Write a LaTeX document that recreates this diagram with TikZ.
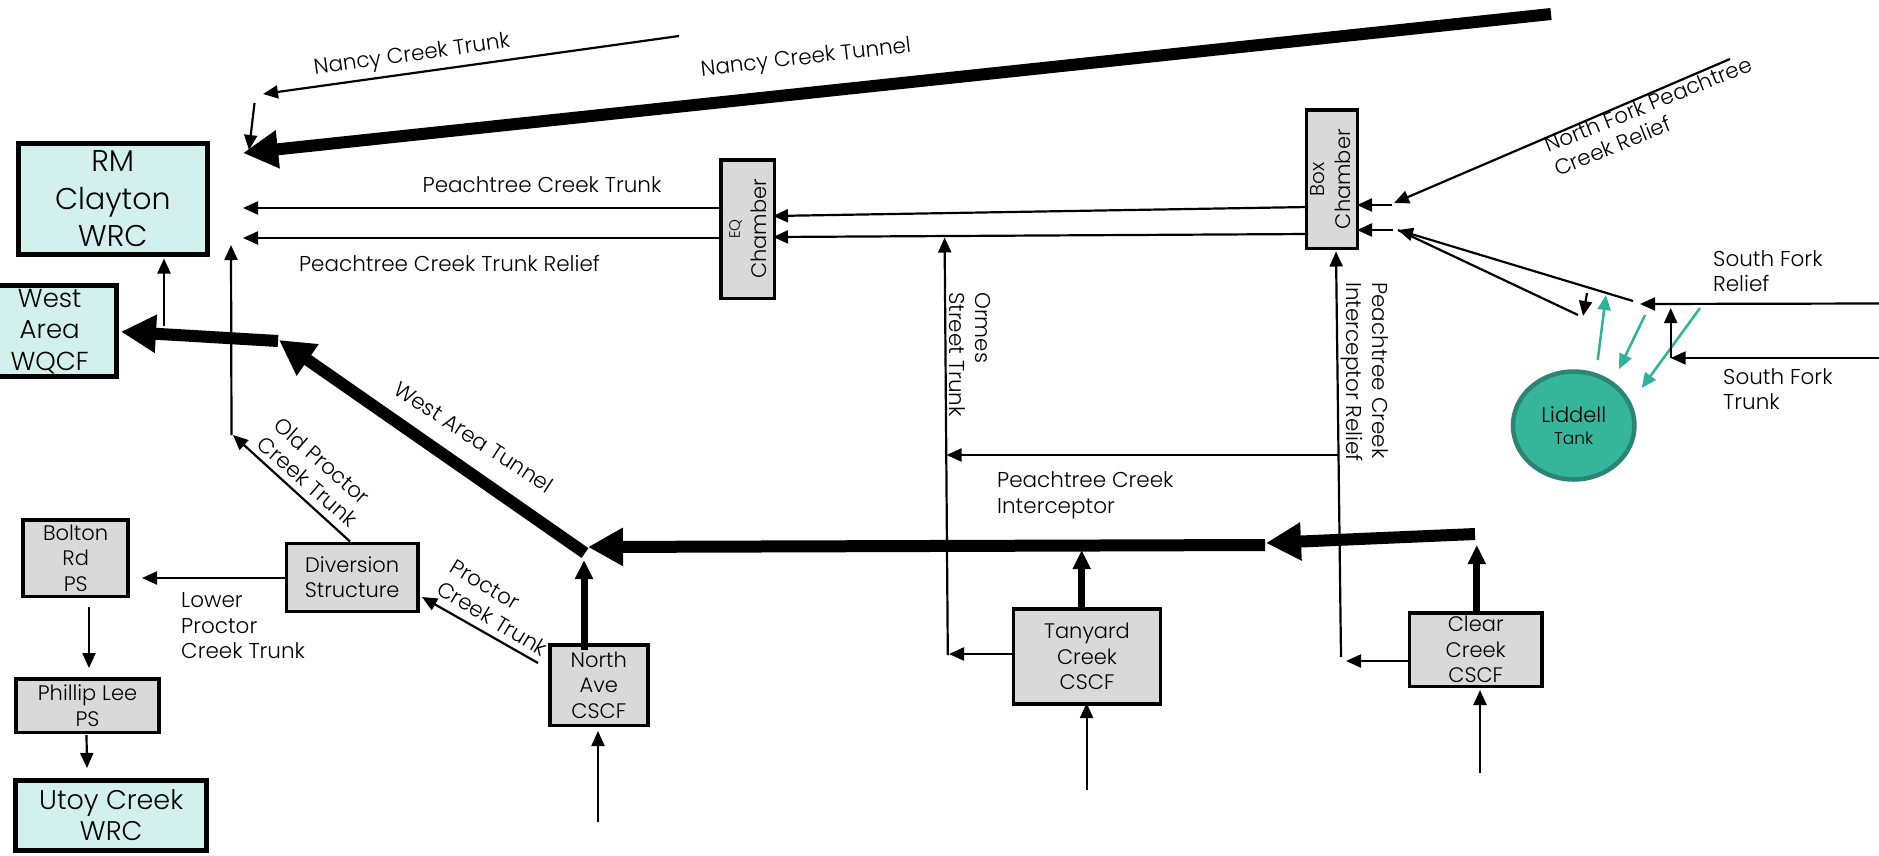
\documentclass[tikz,border=0pt]{standalone}
\usepackage{fontspec}
\setmainfont{Poppins}[UprightFont={* Light}]
\usetikzlibrary{arrows.meta,shapes.geometric}
\definecolor{wrccyan}{HTML}{D3F1EC}
\definecolor{boxgray}{HTML}{D9D9D9}
\definecolor{tankfill}{HTML}{35B59A}
\definecolor{tankline}{HTML}{2A8574}
\definecolor{tealarrow}{HTML}{2EB39B}
\newcommand{\setfs}[2]{\fontsize{#1}{#2}\selectfont}
\begin{document}
\begin{tikzpicture}[x=1pt,y=-1pt,
  lbl/.style={inner sep=0pt, font=\setfs{21.5}{25.5}},
  gbox/.style={draw, line width=3.5pt, fill=boxgray, align=center, inner sep=0pt, font=\setfs{21}{25.5}},
  cbox/.style={draw, line width=5pt, fill=wrccyan, align=center, inner sep=0pt},
  thinflow/.style={line width=2.2pt, -{Triangle[length=15pt,width=13pt]}},
  plainflow/.style={line width=2.2pt},
  midflow/.style={line width=7pt, -{Triangle[length=19pt,width=17pt]}},
  thickflow/.style={line width=12pt, -{Triangle[length=35pt,width=36pt]}},
  tealflow/.style={draw=tealarrow, line width=2.5pt, -{Triangle[length=15pt,width=13pt]}}
]
\useasboundingbox (0,0) rectangle (1879,855);

% ---------- nodes ----------
\node[cbox, minimum width=189.4pt, minimum height=110.7pt, font=\setfs{30}{37.5}] (rmc) at (112.8,198.9) {RM\\Clayton\\WRC};
\node[cbox, minimum width=134.4pt, minimum height=91pt, font=\setfs{26}{31.5}] (wa) at (49.7,331.3) {West\\Area\\WQCF};
\node[cbox, minimum width=190.6pt, minimum height=70pt, font=\setfs{27}{31}] (utoy) at (111.2,815.5) {Utoy Creek\\WRC};
\node[gbox, minimum width=105pt, minimum height=76.5pt] (bolton) at (75.7,558) {Bolton\\Rd\\PS};
\node[gbox, minimum width=143pt, minimum height=53.5pt] (phillip) at (87.5,705.5) {Phillip Lee\\PS};
\node[gbox, minimum width=131.3pt, minimum height=67.8pt] (div) at (352.2,577.4) {Diversion\\Structure};
\node[gbox, minimum width=98pt, minimum height=80.5pt] (north) at (598.8,685) {North\\Ave\\CSCF};
\node[gbox, minimum width=147.4pt, minimum height=95.2pt] (tanyard) at (1087,656.4) {Tanyard\\Creek\\CSCF};
\node[gbox, minimum width=132.6pt, minimum height=73.5pt] (clear) at (1475.7,649.5) {Clear\\Creek\\CSCF};
\node[gbox, rotate=90, minimum width=138.5pt, minimum height=45.6pt, font=\setfs{21}{26.8}] (eq) at (747.8,229)
  {\begin{tabular}{@{}c@{}}{\setfs{15}{18}EQ}\\Chamber\end{tabular}};
\node[gbox, rotate=90, minimum width=138.5pt, minimum height=44.8pt, font=\setfs{21}{25.5}] (box) at (1332.2,179.2)
  {\begin{tabular}{@{}c@{}}{\setfs{20}{24}Box}\\Chamber\end{tabular}};
\node[ellipse, draw=tankline, fill=tankfill, line width=4.5pt, minimum width=121.5pt, minimum height=108pt, inner sep=0pt, align=center, font=\setfs{21}{21.5}] (liddell) at (1573.7,425.5) {Liddell\\{\setfs{17}{20}Tank}};

% ---------- labels ----------
\node[lbl, rotate=8] (lNCT) at (412,56) {Nancy Creek Trunk};
\node[lbl, rotate=6.5] (lNCTu) at (806,59) {Nancy Creek Tunnel};
\node[lbl] (lPCT) at (542,185) {Peachtree Creek Trunk};
\node[lbl] (lPCTR) at (449.5,263.3) {Peachtree Creek Trunk Relief};
\node[lbl, rotate=22, align=left] (lNF) at (1653,116) {North Fork Peachtree\\Creek Relief};
\node[lbl, align=left, anchor=north west] (lSFR) at (1713,250) {South Fork\\Relief};
\node[lbl, align=left, anchor=north west] (lSFT) at (1723,368) {South Fork\\Trunk};
\node[lbl, align=left, anchor=north west] (lPCI) at (997,471.5) {Peachtree Creek\\Interceptor};
\node[lbl, align=left, anchor=north west] (lLPC) at (181,592.5) {Lower\\Proctor\\Creek Trunk};
\node[lbl, align=left, rotate=-90, anchor=north west] (lORM) at (990.5,292) {Ormes\\Street Trunk};
\node[lbl, align=left, rotate=-90, anchor=north west] (lPCIR) at (1388.5,282) {Peachtree Creek\\Interceptor Relief};
\node[lbl, rotate=-33] (lWAT) at (474,437) {West Area Tunnel};
\node[lbl, rotate=-41, align=left] (lOPC) at (316,472) {Old Proctor\\Creek Trunk};
\node[lbl, rotate=-31, align=left] (lPC) at (499,608) {Proctor\\Creek Trunk};

% ---------- coordinates ----------
\coordinate (nctS) at (679,36);      \coordinate (nctE) at (263,94);
\coordinate (dropS) at (254.5,103);  \coordinate (dropE) at (249,150);
\coordinate (nctuS) at (1551,14);    \coordinate (nctuE) at (243,153);
\coordinate (eqL1) at (723,208);     \coordinate (pctE) at (243,208);
\coordinate (eqL2) at (723,238);     \coordinate (pctrE) at (243,238);
\coordinate (bxL1) at (1308,207);    \coordinate (eqR1) at (773,216);
\coordinate (bxL2) at (1308,234);    \coordinate (eqR2) at (773,237);
\coordinate (ormS) at (947.8,655);   \coordinate (ormE) at (944.6,237.5);
\coordinate (tanL) at (1011.6,654);  \coordinate (ormB) at (949,654);
\coordinate (pciS) at (1338.5,455);  \coordinate (pciE) at (946.5,455);
\coordinate (pcirS) at (1341,657);   \coordinate (pcirE) at (1336,251.5);
\coordinate (clrL) at (1407.6,661);  \coordinate (pcirB) at (1346,661);
\coordinate (clrT) at (1476.8,613);  \coordinate (clrUp) at (1476.8,545);
\coordinate (tanT) at (1081.7,610);  \coordinate (tanUp) at (1081.7,550);
\coordinate (nthT) at (584,650);     \coordinate (nthUp) at (584,560);
\coordinate (nthIn) at (598,822);    \coordinate (nthB) at (598,731);
\coordinate (tanIn) at (1086.6,790); \coordinate (tanB) at (1086.6,703);
\coordinate (clrIn) at (1480,773);   \coordinate (clrB) at (1480,690);
\coordinate (mainR) at (1475,534);   \coordinate (mainM) at (1266,543);
\coordinate (mainM2) at (1265,545);  \coordinate (mainJ) at (588,547);
\coordinate (watS) at (585,553);     \coordinate (watE) at (279,340);
\coordinate (waS) at (278,341);      \coordinate (waE) at (121,331.7);
\coordinate (rmcUpS) at (164,326);   \coordinate (rmcUpE) at (164,258.5);
\coordinate (vS) at (231.5,435);     \coordinate (vE) at (231,245);
\coordinate (oldS) at (350,541.5);   \coordinate (oldE) at (233,435);
\coordinate (pcS) at (538,663);      \coordinate (pcE) at (422,597);
\coordinate (lowS) at (284.8,578);   \coordinate (lowE) at (142,578);
\coordinate (bp1) at (89,607);       \coordinate (bp2) at (89,668);
\coordinate (pu1) at (86.5,735);     \coordinate (pu2) at (87,768);
\coordinate (nfS) at (1730,59);      \coordinate (nfE) at (1394,203);
\coordinate (bs1S) at (1392,205);    \coordinate (bs1E) at (1357,205);
\coordinate (bs2S) at (1393,230);    \coordinate (bs2E) at (1357,230);
\coordinate (cvA) at (1633,301);     \coordinate (cvB) at (1578,315);
\coordinate (cvE) at (1398,230);
\coordinate (smS) at (1587,293);     \coordinate (smE) at (1583,316);
\coordinate (t1S) at (1597.7,360);   \coordinate (t1E) at (1606,295);
\coordinate (t2S) at (1645,315);     \coordinate (t2E) at (1619,369);
\coordinate (t3S) at (1700,308);     \coordinate (t3E) at (1641.7,388);
\coordinate (sfrS) at (1879,303.5);  \coordinate (sfrE) at (1640,304);
\coordinate (sftS) at (1879,358);    \coordinate (sftE) at (1670.7,358);
\coordinate (sftU) at (1670.7,308);

% ---------- connectors ----------
\draw[thinflow] (nctS) -- (nctE);
\draw[thinflow] (dropS) -- (dropE);
\draw[thickflow] (nctuS) -- (nctuE);
\draw[thinflow] (eqL1) -- (pctE);
\draw[thinflow] (eqL2) -- (pctrE);
\draw[thinflow] (bxL1) -- (eqR1);
\draw[thinflow] (bxL2) -- (eqR2);
\draw[thinflow] (ormS) -- (ormE);
\draw[thinflow] (tanL) -- (ormB);
\draw[thinflow] (pciS) -- (pciE);
\draw[thinflow] (pcirS) -- (pcirE);
\draw[thinflow] (clrL) -- (pcirB);
\draw[midflow] (clrT) -- (clrUp);
\draw[midflow] (tanT) -- (tanUp);
\draw[midflow] (nthT) -- (nthUp);
\draw[thinflow] (nthIn) -- (nthB);
\draw[thinflow] (tanIn) -- (tanB);
\draw[thinflow] (clrIn) -- (clrB);
\draw[thickflow] (mainR) -- (mainM);
\draw[thickflow] (mainM2) -- (mainJ);
\draw[thickflow] (watS) -- (watE);
\draw[thickflow] (waS) -- (waE);
\draw[thinflow] (rmcUpS) -- (rmcUpE);
\draw[thinflow] (vS) -- (vE);
\draw[thinflow] (oldS) -- (oldE);
\draw[thinflow] (pcS) -- (pcE);
\draw[thinflow] (lowS) -- (lowE);
\draw[thinflow] (bp1) -- (bp2);
\draw[thinflow] (pu1) -- (pu2);
\draw[thinflow] (nfS) -- (nfE);
\draw[thinflow] (bs1S) -- (bs1E);
\draw[thinflow] (bs2S) -- (bs2E);
\draw[plainflow] (cvB) -- (cvE);
\draw[thinflow] (cvA) -- (cvE);
\draw[thinflow] (smS) -- (smE);
\draw[tealflow] (t1S) -- (t1E);
\draw[tealflow] (t2S) -- (t2E);
\draw[tealflow] (t3S) -- (t3E);
\draw[thinflow] (sfrS) -- (sfrE);
\draw[thinflow] (sftS) -- (sftE);
\draw[thinflow] (sftE) -- (sftU);
\end{tikzpicture}
\end{document}
